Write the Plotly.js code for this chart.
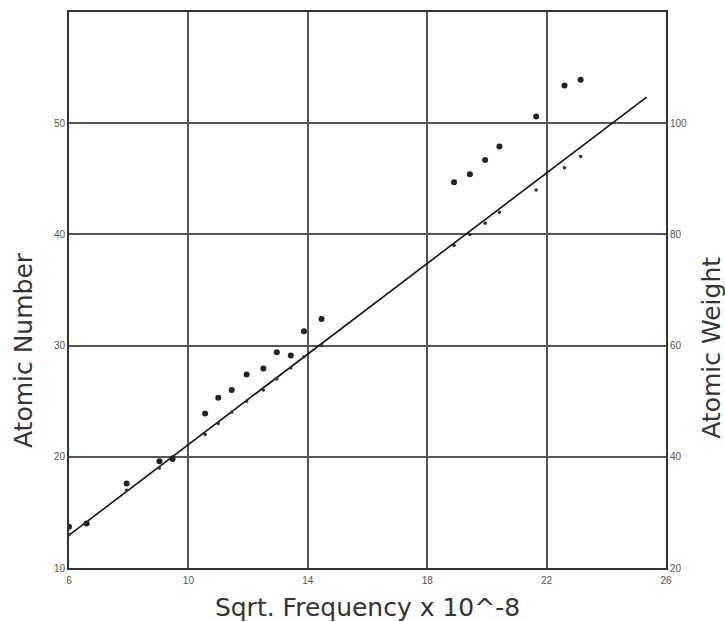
<!DOCTYPE html>
<html>
<head>
<meta charset="utf-8">
<script src="https://cdn.plot.ly/plotly-3.0.1.min.js"></script>
<style>html,body{margin:0;padding:0;background:#fff;}#chart{width:725px;height:622px;}</style>
</head>
<body>
<div id="chart"></div>
<script>
// Elements plotted (Moseley K-line data)
const elements = ["Al","Si","Cl","K","Ca","Ti","V","Cr","Mn","Fe","Co","Ni","Cu","Zn","Y","Zr","Nb","Mo","Ru","Pd","Ag"];
// Sqrt. frequency x 10^-8
const sqrtFreq = [6.0,6.59,7.93,9.03,9.47,10.56,11.0,11.45,11.95,12.51,12.96,13.43,13.87,14.46,18.9,19.43,19.94,20.42,21.65,22.6,23.14];
// Atomic number (left axis)
const atomicNumber = [13,14,17,19,20,22,23,24,25,26,27,28,29,30,39,40,41,42,44,46,47];
// Atomic weight (right axis)
const atomicWeight = [27.4,28,35.2,39.2,39.6,47.8,50.6,52,54.8,55.9,58.8,58.2,62.6,64.8,89.4,90.8,93.4,95.8,101.2,106.8,107.8];
// Fitted straight line end points
const fitX = [6.0, 25.35];
const fitY = [12.95, 52.35];

const xTicks = [6,10,14,18,22,26];
const yTicks = [10,20,30,40,50];
const y2Ticks = [20,40,60,80,100];

const traces = [
  {x: fitX, y: fitY, mode: "lines", line: {color: "#111", width: 1.6}, hoverinfo: "skip", name: "fit"},
  {x: sqrtFreq, y: atomicNumber, text: elements, mode: "markers", name: "Atomic Number",
   marker: {color: "#333", size: 3.5}},
  {x: sqrtFreq, y: atomicWeight, text: elements, mode: "markers", name: "Atomic Weight", yaxis: "y2",
   marker: {color: "#222", size: 6}}
];

const tickFont = {family: "Liberation Sans, Arial, sans-serif", size: 10, color: "#555"};
const titleFont = {family: "DejaVu Sans, sans-serif", size: 25, color: "#333"};

const layout = {
  width: 725, height: 622,
  margin: {l: 69, r: 59, t: 12, b: 54, pad: 0},
  paper_bgcolor: "#fff", plot_bgcolor: "#fff",
  showlegend: false,
  xaxis: {
    range: [6, 26], tickvals: xTicks, ticktext: xTicks.map(String),
    showgrid: true, gridcolor: "#555", gridwidth: 2,
    showline: true, linecolor: "#333", linewidth: 2, mirror: true,
    zeroline: false, ticks: "", tickfont: tickFont, ticklabelstandoff: 2,
    title: {text: "Sqrt. Frequency x 10^-8", font: titleFont, standoff: 14}
  },
  yaxis: {
    range: [10, 60], tickvals: yTicks, ticktext: yTicks.map(String),
    showgrid: true, gridcolor: "#555", gridwidth: 2,
    showline: true, linecolor: "#333", linewidth: 2,
    zeroline: false, ticks: "", tickfont: tickFont
  },
  yaxis2: {
    range: [20, 120], tickvals: y2Ticks, ticktext: y2Ticks.map(String),
    overlaying: "y", side: "right", showgrid: false,
    showline: true, linecolor: "#333", linewidth: 2,
    zeroline: false, ticks: "", tickfont: tickFont
  },
  annotations: [
    {text: "Atomic Number", xref: "paper", yref: "paper", x: -0.077, y: 0.392,
     textangle: -90, showarrow: false, font: titleFont, xanchor: "center", yanchor: "middle"},
    {text: "Atomic Weight", xref: "paper", yref: "paper", x: 1.077, y: 0.396,
     textangle: -90, showarrow: false, font: titleFont, xanchor: "center", yanchor: "middle"}
  ]
};

Plotly.newPlot("chart", traces, layout, {displayModeBar: false, staticPlot: true});
</script>
</body>
</html>
